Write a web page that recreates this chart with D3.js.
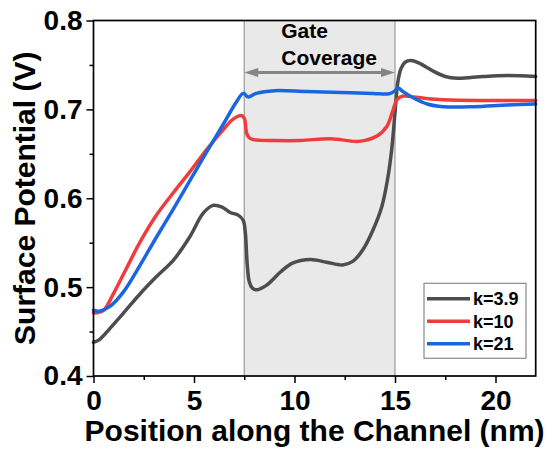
<!DOCTYPE html>
<html>
<head>
<meta charset="utf-8">
<script src="https://cdn.jsdelivr.net/npm/d3@7"></script>
<style>
  body { margin: 0; background: #fff; }
  text { font-family: Arial, "Liberation Sans", sans-serif; font-weight: bold; fill: #000; }
  .tick text { font-size: 28px; }
  .domain { display: none; }
</style>
</head>
<body>
<div id="wrapper"></div>
<script>
// values (position in nm, surface potential in V)
const xK39 = [0, 0.3, 0.8, 1.5, 2.3, 3.1, 4.0, 4.8, 5.45, 5.95, 6.4, 6.8, 7.2, 7.45, 7.55, 7.65, 7.75, 7.9, 8.1, 8.6, 9.3, 9.9, 10.8, 11.6, 12.4, 12.9, 13.4, 13.9, 14.35, 14.65, 14.85, 15.0, 15.15, 15.3, 15.5, 15.8, 16.2, 16.9, 17.5, 18.1, 19.4, 20.6, 22]
const yK39 = [0.438, 0.441, 0.453, 0.471, 0.492, 0.511, 0.531, 0.557, 0.583, 0.592, 0.590, 0.584, 0.581, 0.575, 0.562, 0.525, 0.506, 0.499, 0.497, 0.502, 0.517, 0.527, 0.531, 0.528, 0.525, 0.529, 0.542, 0.564, 0.591, 0.624, 0.658, 0.696, 0.732, 0.746, 0.753, 0.755, 0.752, 0.743, 0.737, 0.735, 0.737, 0.738, 0.737]

const xK10 = [0, 0.5, 1.0, 1.5, 2.3, 3.1, 4.0, 4.8, 5.6, 6.45, 6.95, 7.35, 7.5, 7.62, 7.75, 7.95, 9.0, 10.3, 11.8, 13.2, 14.1, 14.6, 14.9, 15.1, 15.4, 15.9, 17.2, 19.7, 22]
const yK10 = [0.471, 0.474, 0.493, 0.515, 0.550, 0.580, 0.607, 0.630, 0.654, 0.677, 0.689, 0.693, 0.690, 0.673, 0.668, 0.666, 0.665, 0.665, 0.667, 0.664, 0.670, 0.681, 0.699, 0.711, 0.715, 0.714, 0.711, 0.710, 0.710]

const xK21 = [0, 0.3, 0.8, 1.5, 2.3, 3.1, 4.0, 4.8, 5.6, 6.45, 7.1, 7.45, 7.7, 8.1, 9.0, 10.6, 12.3, 13.9, 14.7, 15.0, 15.15, 15.4, 15.9, 16.6, 17.4, 18.9, 20.6, 22]
const yK21 = [0.474, 0.473, 0.478, 0.495, 0.524, 0.555, 0.589, 0.620, 0.651, 0.683, 0.708, 0.718, 0.714, 0.718, 0.721, 0.720, 0.719, 0.718, 0.7175, 0.721, 0.724, 0.720, 0.713, 0.706, 0.703, 0.703, 0.705, 0.706]

const seriesNames = ["k=3.9", "k=10", "k=21"]
const seriesColors = ["#4d4d4d", "#f03c3c", "#1a66e0"]

const xTicks = [0, 5, 10, 15, 20]
const yTicks = [0.4, 0.5, 0.6, 0.7, 0.8]
const gateRange = [7.5, 15]

async function drawChart() {

  // 1. Access data
  const series = [
    { name: seriesNames[0], color: seriesColors[0], values: xK39.map((x, i) => [x, yK39[i]]) },
    { name: seriesNames[1], color: seriesColors[1], values: xK10.map((x, i) => [x, yK10[i]]) },
    { name: seriesNames[2], color: seriesColors[2], values: xK21.map((x, i) => [x, yK21[i]]) },
  ]

  // 2. Create chart dimensions
  let dimensions = {
    width: 550,
    height: 459,
    margin: {
      top: 20.5,
      right: 14.3,
      bottom: 83,
      left: 93.5,
    },
  }
  dimensions.boundedWidth = dimensions.width - dimensions.margin.left - dimensions.margin.right
  dimensions.boundedHeight = dimensions.height - dimensions.margin.top - dimensions.margin.bottom

  // 3. Draw canvas
  const wrapper = d3.select("#wrapper")
    .append("svg")
      .attr("width", dimensions.width)
      .attr("height", dimensions.height)

  const bounds = wrapper.append("g")
      .attr("transform", `translate(${dimensions.margin.left}, ${dimensions.margin.top})`)

  // 4. Create scales
  const xScale = d3.scaleLinear()
    .domain([0, 22])
    .range([0, dimensions.boundedWidth])

  const yScale = d3.scaleLinear()
    .domain([0.4, 0.8])
    .range([dimensions.boundedHeight, 0])

  // gate coverage band
  bounds.append("rect")
      .attr("x", xScale(gateRange[0]))
      .attr("y", 0)
      .attr("width", xScale(gateRange[1]) - xScale(gateRange[0]))
      .attr("height", dimensions.boundedHeight)
      .attr("fill", "#e9e9e9")
  bounds.selectAll(".gate-edge")
    .data(gateRange)
    .enter().append("line")
      .attr("class", "gate-edge")
      .attr("x1", d => xScale(d))
      .attr("x2", d => xScale(d))
      .attr("y1", 0)
      .attr("y2", dimensions.boundedHeight)
      .attr("stroke", "#9a9a9a")
      .attr("stroke-width", 1.2)

  // 5. Draw data
  // centripetal catmull-rom keeps the curves smooth without overshooting the steep drops
  const lineGenerator = d3.line()
    .x(d => xScale(d[0]))
    .y(d => yScale(d[1]))
    .curve(d3.curveCatmullRom.alpha(0.5))

  bounds.selectAll(".series-line")
    .data(series)
    .enter().append("path")
      .attr("class", "series-line")
      .attr("d", d => lineGenerator(d.values))
      .attr("fill", "none")
      .attr("stroke", d => d.color)
      .attr("stroke-width", 3.5)
      .attr("stroke-linejoin", "round")
      .attr("stroke-linecap", "round")

  // 6. Draw peripherals

  // arrow + label for the gate
  const arrowY = 52
  const arrowColor = "#858585"
  const headLength = 14
  bounds.append("line")
      .attr("x1", xScale(gateRange[0]) + headLength - 2)
      .attr("x2", xScale(gateRange[1]) - headLength + 2)
      .attr("y1", arrowY)
      .attr("y2", arrowY)
      .attr("stroke", arrowColor)
      .attr("stroke-width", 3)
  const leftHead = [[0, 0], [headLength, -4.5], [headLength, 4.5]]
  bounds.append("polygon")
      .attr("points", leftHead.map(p => [xScale(gateRange[0]) + p[0], arrowY + p[1]].join(",")).join(" "))
      .attr("fill", arrowColor)
  bounds.append("polygon")
      .attr("points", leftHead.map(p => [xScale(gateRange[1]) - p[0], arrowY + p[1]].join(",")).join(" "))
      .attr("fill", arrowColor)

  const gateLabel = bounds.append("g")
      .attr("transform", `translate(${xScale(gateRange[0]) + 37}, 0)`)
      .style("font-size", "21px")
  gateLabel.append("text")
      .attr("y", 17.5)
      .text("Gate")
  gateLabel.append("text")
      .attr("y", 44.5)
      .text("Coverage")

  // axes
  const xAxis = bounds.append("g")
      .attr("transform", `translate(0, ${dimensions.boundedHeight})`)
      .call(d3.axisBottom(xScale).tickValues(xTicks).tickSize(7).tickPadding(7).tickSizeOuter(0))
  bounds.append("g")
      .attr("transform", `translate(0, ${dimensions.boundedHeight})`)
      .call(d3.axisBottom(xScale).tickValues(d3.range(2.5, 22, 5)).tickSize(4).tickFormat(""))

  const yAxis = bounds.append("g")
      .call(d3.axisLeft(yScale).tickValues(yTicks).tickSize(7).tickPadding(4).tickFormat(d3.format(".1f")).tickSizeOuter(0))
  bounds.append("g")
      .call(d3.axisLeft(yScale).tickValues(d3.range(0.45, 0.8, 0.1)).tickSize(4).tickFormat(""))

  bounds.selectAll(".tick line")
      .attr("stroke", "#000")
      .attr("stroke-width", 1.5)

  // frame
  bounds.append("rect")
      .attr("width", dimensions.boundedWidth)
      .attr("height", dimensions.boundedHeight)
      .attr("fill", "none")
      .attr("stroke", "#000")
      .attr("stroke-width", 1.7)

  // axis titles
  wrapper.append("text")
      .attr("x", dimensions.margin.left + dimensions.boundedWidth / 2)
      .attr("y", 441)
      .attr("text-anchor", "middle")
      .style("font-size", "30px")
      .text("Position along the Channel (nm)")

  wrapper.append("text")
      .attr("transform", `translate(35, ${dimensions.margin.top + dimensions.boundedHeight / 2}) rotate(-90)`)
      .attr("text-anchor", "middle")
      .style("font-size", "30px")
      .text("Surface Potential (V)")

  // legend
  const legendWidth = 102
  const legendHeight = 75
  const legend = bounds.append("g")
      .attr("transform", `translate(${dimensions.boundedWidth - 9.7 - legendWidth}, ${dimensions.boundedHeight - 17.7 - legendHeight})`)
  legend.append("rect")
      .attr("width", legendWidth)
      .attr("height", legendHeight)
      .attr("fill", "#fff")
      .attr("stroke", "#8a8a8a")
      .attr("stroke-width", 1.2)
  const legendRows = legend.selectAll(".legend-row")
    .data(series)
    .enter().append("g")
      .attr("class", "legend-row")
      .attr("transform", (d, i) => `translate(0, ${15.5 + i * 22.5})`)
  legendRows.append("line")
      .attr("x1", 3)
      .attr("x2", 46)
      .attr("stroke", d => d.color)
      .attr("stroke-width", 3.5)
  legendRows.append("text")
      .attr("x", 49)
      .attr("dy", "0.35em")
      .style("font-size", "18px")
      .text(d => d.name)
}
drawChart()
</script>
</body>
</html>
